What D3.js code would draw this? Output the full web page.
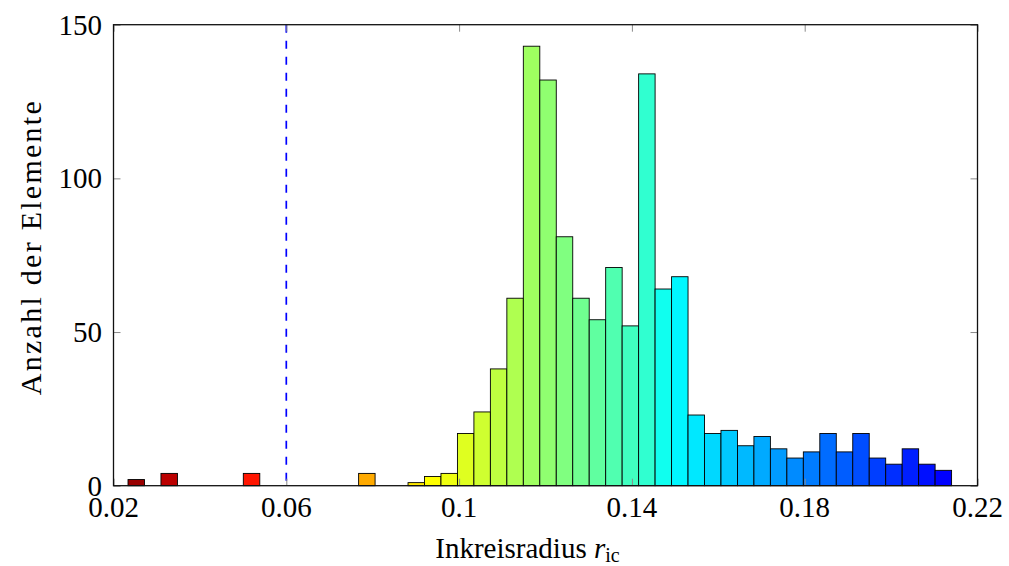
<!DOCTYPE html>
<html>
<head>
<meta charset="utf-8">
<script src="https://cdn.jsdelivr.net/npm/d3@7"></script>
<style>
  html, body { margin: 0; padding: 0; background: #fff; }
  svg text { font-family: "Liberation Serif", "DejaVu Serif", serif; fill: #000; }
</style>
</head>
<body>
<svg id="chart" width="1009" height="566"></svg>
<script>
// Histogram of incircle radii: 50 equal bins between rangeMin and rangeMax
const rangeMin = 0.02336;
const rangeMax = 0.2140;
const counts = [
  2, 0, 4, 0, 0, 0, 0, 4, 0, 0,
  0, 0, 0, 0, 4, 0, 0, 1, 3, 4,
  17, 24, 38, 61, 143, 132, 81, 61, 54, 71,
  52, 134, 64, 68, 23, 17, 18, 13, 16, 12,
  9, 11, 17, 11, 17, 9, 7, 12, 7, 5
];
const xTicks = [0.02, 0.06, 0.1, 0.14, 0.18, 0.22];
const yTicks = [0, 50, 100, 150];
const thresholdValue = 0.06;

// colormap stops (bin index -> colour), jet-like from dark red to blue
const cmapStops = [0, 6, 18, 31, 32.5, 49];
const cmapColors = ["#990000", "#ff0000", "#ffff00", "#30ffd0", "#00ffff", "#0000ff"];

const svg = d3.select("#chart");
const plotL = 113.5, plotR = 977.5, plotT = 24.7, plotB = 485.7;

const x = d3.scaleLinear().domain([0.02, 0.22]).range([plotL, plotR]);
const y = d3.scaleLinear().domain([0, 150]).range([plotB, plotT]);
const color = d3.scaleLinear().domain(cmapStops).range(cmapColors).interpolate(d3.interpolateRgb);

const binW = (rangeMax - rangeMin) / counts.length;
const bins = counts.map((c, i) => ({ i, x0: rangeMin + i * binW, x1: rangeMin + (i + 1) * binW, c }));

// bars
svg.append("g").selectAll("rect")
  .data(bins.filter(d => d.c > 0))
  .join("rect")
  .attr("x", d => x(d.x0))
  .attr("width", d => x(d.x1) - x(d.x0))
  .attr("y", d => y(d.c))
  .attr("height", d => y(0) - y(d.c))
  .attr("fill", d => color(d.i))
  .attr("stroke", "#000")
  .attr("stroke-width", 0.9);

// dashed threshold line
svg.append("line")
  .attr("x1", x(thresholdValue)).attr("x2", x(thresholdValue))
  .attr("y1", y(150)).attr("y2", y(0))
  .attr("stroke", "#0000ff")
  .attr("stroke-width", 1.7)
  .attr("stroke-dasharray", "8,8");

// inward ticks on all four sides
const tickLen = 7;
const tickColor = "#8a8a8a";
const axisG = svg.append("g");
const axB = d3.axisBottom(x).tickValues(xTicks).tickSize(-tickLen).tickFormat("");
const axT = d3.axisTop(x).tickValues(xTicks).tickSize(-tickLen).tickFormat("");
const axL = d3.axisLeft(y).tickValues(yTicks).tickSize(-tickLen).tickFormat("");
const axR = d3.axisRight(y).tickValues(yTicks).tickSize(-tickLen).tickFormat("");
[[axB, `translate(0,${plotB})`], [axT, `translate(0,${plotT})`],
 [axL, `translate(${plotL},0)`], [axR, `translate(${plotR},0)`]].forEach(([ax, tr]) => {
  const g = axisG.append("g").attr("transform", tr).call(ax);
  g.select(".domain").remove();
  g.selectAll(".tick line").attr("stroke", tickColor).attr("stroke-width", 1);
});

// frame
svg.append("rect")
  .attr("x", plotL).attr("y", plotT)
  .attr("width", plotR - plotL).attr("height", plotB - plotT)
  .attr("fill", "none").attr("stroke", "#111").attr("stroke-width", 1.3);

// tick labels
const fmt = d => d3.format("")(d);
svg.append("g").selectAll("text")
  .data(xTicks).join("text")
  .attr("x", d => x(d)).attr("y", 517)
  .attr("text-anchor", "middle")
  .attr("font-size", 29)
  .text(d => fmt(d));

svg.append("g").selectAll("text")
  .data(yTicks).join("text")
  .attr("x", 102).attr("y", d => y(d) + 10)
  .attr("text-anchor", "end")
  .attr("font-size", 29)
  .text(d => fmt(d));

// axis titles
svg.append("text")
  .attr("transform", `translate(41,${(plotT + plotB) / 2 - 7}) rotate(-90)`)
  .attr("text-anchor", "middle")
  .attr("font-size", 30)
  .attr("textLength", 294)
  .attr("lengthAdjust", "spacing")
  .text("Anzahl der Elemente");

const xt = svg.append("text")
  .attr("x", (plotL + plotR) / 2 - 18).attr("y", 558)
  .attr("text-anchor", "middle")
  .attr("font-size", 29);
xt.append("tspan").text("Inkreisradius ");
xt.append("tspan").attr("font-style", "italic").text("r");
xt.append("tspan").attr("font-size", 20).attr("dy", 4).text("ic");
</script>
</body>
</html>
